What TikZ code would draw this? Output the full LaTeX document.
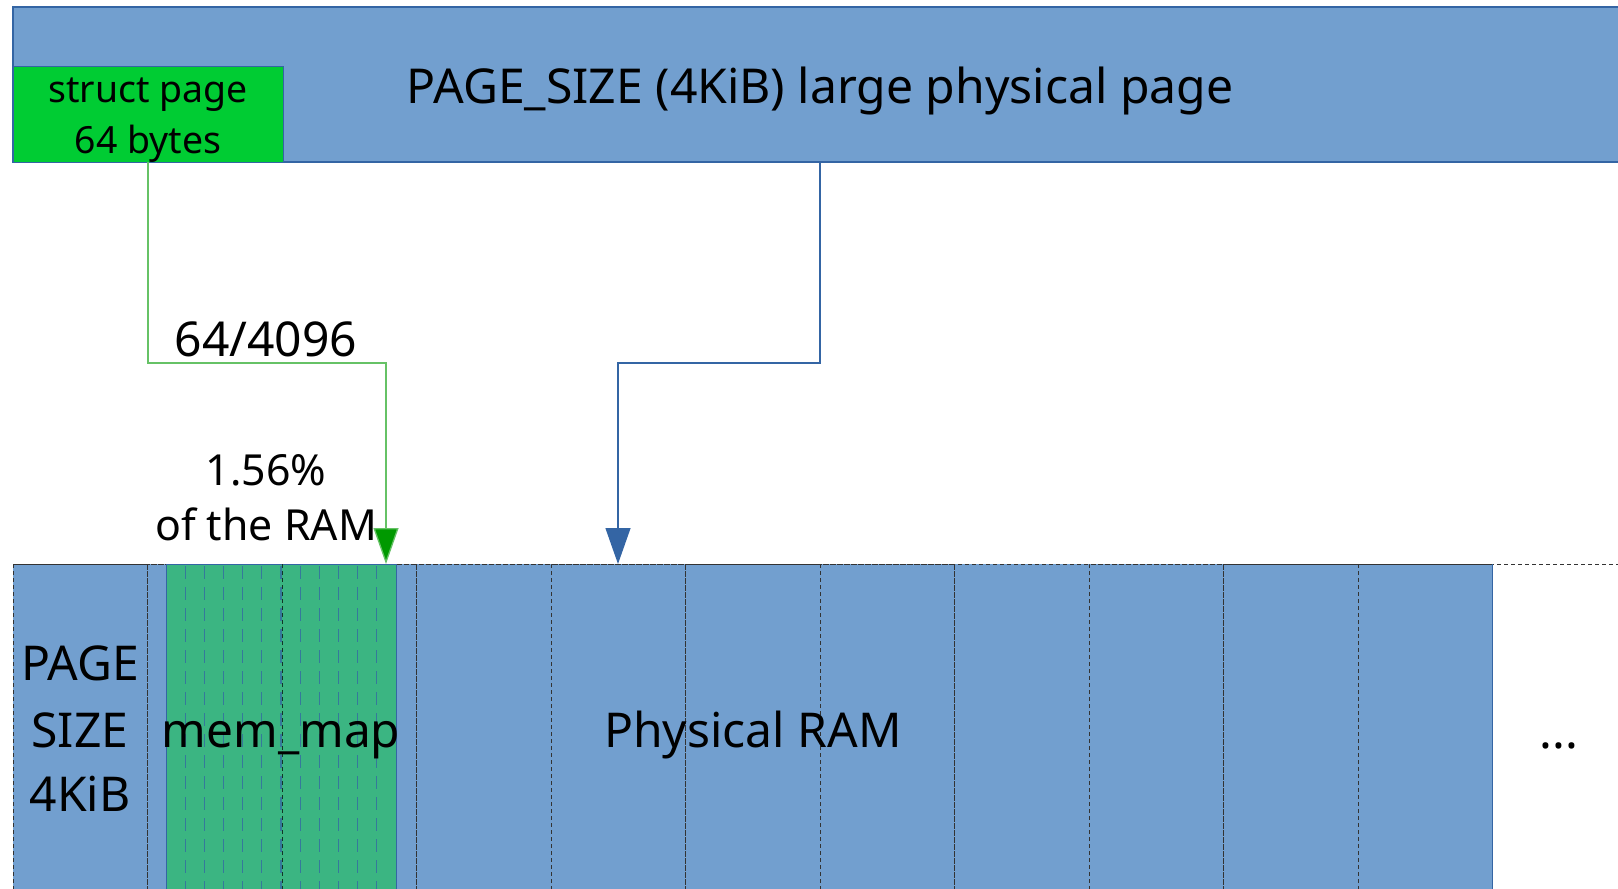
\documentclass[tikz,border=0pt]{standalone}
\usepackage{fontspec}
\setmainfont{Noto Sans}
\usetikzlibrary{arrows.meta}
\definecolor{pageblue}{HTML}{729FCF}
\definecolor{edgeblue}{HTML}{3465A4}
\definecolor{structgreen}{HTML}{00CC33}
\definecolor{mapgreen}{HTML}{3BB582}
\definecolor{linkgreen}{HTML}{66C266}
\definecolor{tipgreen}{HTML}{009900}
\definecolor{cellline}{HTML}{333333}
\newcommand{\fs}[1]{\fontsize{#1}{1.2\dimexpr#1pt\relax}\selectfont}
\tikzset{
  cell/.style={rectangle, fill=pageblue, draw=cellline, line width=0.9pt,
    dash pattern=on 4pt off 3pt, minimum width=134.5pt, minimum height=340pt,
    inner sep=0pt, outer sep=0pt},
  cellsep/.style={draw=cellline, line width=0.9pt, dash pattern=on 4pt off 3pt},
  mapstripe/.style={draw=edgeblue, line width=1.1pt, dash pattern=on 13pt off 8pt, opacity=0.75},
  label/.style={anchor=base, inner sep=0pt, text=black},
  gconn/.style={draw=linkgreen, line width=1.3pt, -{Triangle[width=25pt,length=36pt,fill=tipgreen]}},
  bconn/.style={draw=edgeblue, line width=1.3pt, -{Triangle[width=25pt,length=36pt,fill=edgeblue]}},
}
\begin{document}
\begin{tikzpicture}[x=1pt,y=-1pt]
\useasboundingbox (0,0) rectangle (1618,889);
\clip (0,0) rectangle (1618,889);

% the large physical page and its struct page
\node[rectangle, fill=pageblue, draw=edgeblue, line width=1.2pt, minimum width=1614pt,
  minimum height=155pt, inner sep=0pt, outer sep=0pt] (page) at (820,84.5) {};
\node[label] (pagetxt) at (820,103) {\fs{48.1}PAGE\_SIZE (4KiB) large physical page};
\node[rectangle, fill=structgreen, draw=edgeblue, line width=1pt, minimum width=270pt,
  minimum height=96pt, inner sep=0pt, outer sep=0pt] (spage) at (148,114) {};
\node[label] (s1) at (148,102) {\fs{37.4}struct page};
\node[label] (s2) at (148,153) {\fs{37.4}64 bytes};

% physical RAM, one cell per page
\foreach \i in {0,...,10} {
  \node[cell] (c\i) at ({13+134.5*\i+67.25},734) {};
}
\draw[cellsep] (c0.north west) -- (1618,564) coordinate (rowend);
\draw[edgeblue, line width=1.2pt] (c10.north east) -- (c10.south east);

% mem_map region
\node[rectangle, fill=mapgreen, draw=edgeblue, line width=0.8pt, minimum width=230pt,
  minimum height=340pt, inner sep=0pt, outer sep=0pt] (mm) at (281,734) {};
\foreach \k in {1,...,11} {
  \draw[mapstripe] ({166+230/12*\k},566) -- ({166+230/12*\k},889);
}
\draw[cellsep, draw=black!70!mapgreen] (c1.north east) -- (c1.south east);

% labels in the RAM row
\node[label] (l1) at (80,680) {\fs{48}PAGE};
\node[label] (l2) at (80,747) {\fs{48}SIZE};
\node[label] (l3) at (80,811) {\fs{48}4KiB};
\node[label] (mmtxt) at (281,747) {\fs{47.8}mem\_map};
\node[label] (ram) at (753,747) {\fs{48}Physical RAM};
\node[label] (more) at (1559,748) {\fs{48}...};

% connectors
\coordinate (gtip) at (386,564);
\coordinate (btip) at (618,564);
\draw[gconn] (spage.south) -- (spage.south |- 0,363) -- (gtip |- 0,363) -- (gtip);
\draw[bconn] (page.south) -- (page.south |- 0,363) -- (btip |- 0,363) -- (btip);

\node[label] (ratio) at (266,356) {\fs{48}64/4096};
\node[label] (pct) at (266,485) {\fs{42.8}1.56\%};
\node[label] (ofram) at (266,540) {\fs{42.8}of the RAM};
\end{tikzpicture}
\end{document}
